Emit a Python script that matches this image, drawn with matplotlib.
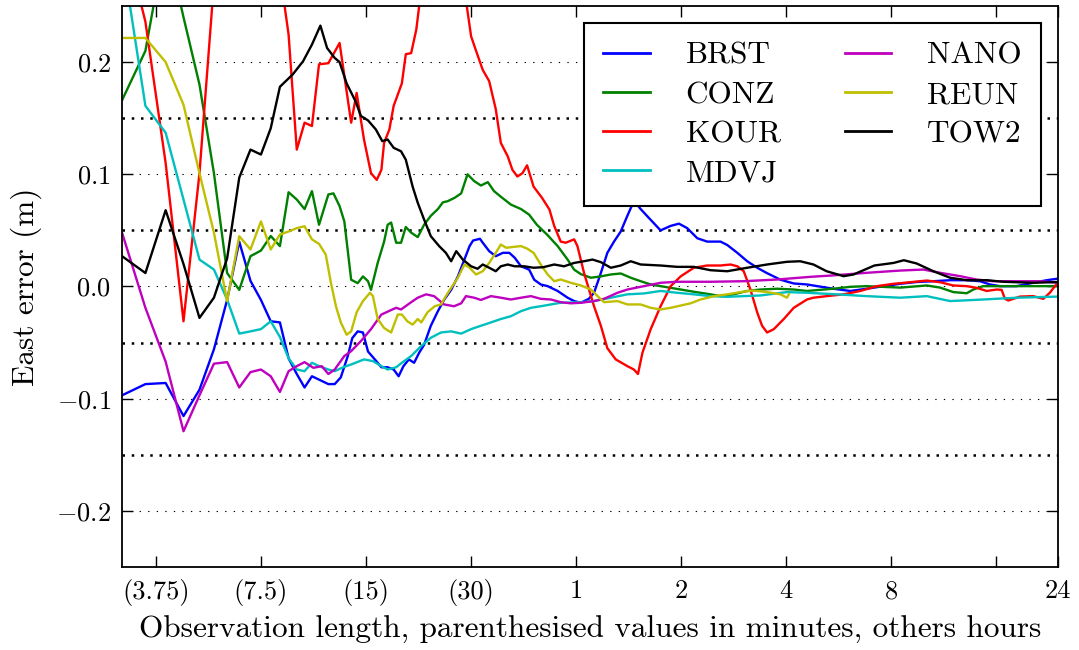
import numpy as np
import matplotlib
matplotlib.use('Agg')
import matplotlib.pyplot as plt
from matplotlib.ticker import FixedLocator, FixedFormatter, NullLocator


plt.rcParams['font.family'] = 'cmr10'
plt.rcParams['mathtext.fontset'] = 'cm'
plt.rcParams['axes.formatter.use_mathtext'] = True


# East error (m) against observation length (minutes) for each station.
brst = [(3, -0.097), (3.5, -0.087), (4, -0.086), (4.5, -0.1155), (5, -0.092),
        (5.5, -0.056), (6, -0.012), (6.5, 0.040), (7, 0.005), (7.5, -0.012),
        (8, -0.031), (8.5, -0.032), (9, -0.064), (9.5, -0.078), (10, -0.090),
        (10.5, -0.080), (11.0, -0.083), (11.7, -0.087), (12.2, -0.087),
        (12.7, -0.081), (13.3, -0.062), (13.7, -0.046), (14.2, -0.040),
        (14.7, -0.041), (15.2, -0.058), (15.9, -0.065), (16.6, -0.072),
        (17.3, -0.072), (18.0, -0.074), (18.6, -0.080), (19.2, -0.071),
        (19.9, -0.065), (20.6, -0.068), (21.3, -0.059), (22.0, -0.052),
        (23.0, -0.035), (24.1, -0.022), (25.1, -0.012), (26.3, -0.003),
        (27.5, 0.009), (28.7, 0.024), (29.7, 0.036), (30.4, 0.041),
        (31.8, 0.0425), (32.4, 0.039), (33.8, 0.0315), (35.3, 0.027),
        (37.0, 0.030), (38.6, 0.030), (40.0, 0.0256), (41.7, 0.018),
        (44.0, 0.015), (45.5, 0.006), (47.5, 0.0018), (49.7, 0.0003),
        (53.1, -0.004), (56.7, -0.010), (59.2, -0.013), (61.9, -0.0145),
        (65.2, -0.011), (67.5, -0.0056), (70.6, 0.012), (73.7, 0.030),
        (77.0, 0.040), (80.5, 0.049), (84.1, 0.063), (86.9, 0.073),
        (88.8, 0.0746), (91.8, 0.069), (97.0, 0.061), (104.7, 0.050),
        (111.9, 0.054), (118.2, 0.056), (124.8, 0.052), (133.4, 0.043),
        (142.4, 0.040), (155.5, 0.040), (162.5, 0.037), (173.7, 0.030),
        (185.4, 0.0225), (198, 0.0167), (211, 0.012), (231, 0.006),
        (252, 0.0027), (275, 0.0018), (327, -0.002), (366, -0.004),
        (408, -0.002), (456, 0.0003), (509, 0.0024), (567, 0.004),
        (633, 0.0047), (707, 0.0056), (789, 0.0056), (861, 0.0047),
        (920, 0.0018), (982, 0.0003), (1096, 0.0003), (1223, 0.0033),
        (1337, 0.0056), (1440, 0.007)]

conz = [(3, 0.166), (3.5, 0.21), (4, 0.31), (4.5, 0.24), (5, 0.18),
        (5.5, 0.101), (6, 0.012), (6.5, -0.003), (7, 0.027), (7.5, 0.032),
        (8, 0.045), (8.5, 0.036), (9, 0.084), (9.5, 0.0775), (10, 0.069),
        (10.5, 0.085), (11.0, 0.055), (11.7, 0.082), (12.1, 0.083),
        (12.6, 0.0716), (13.0, 0.058), (13.6, 0.006), (14.2, 0.003),
        (14.7, 0.009), (15.2, 0.0047), (15.5, -0.003), (16.2, 0.021),
        (16.9, 0.040), (17.3, 0.055), (17.7, 0.057), (18.3, 0.039),
        (18.9, 0.039), (19.5, 0.053), (20.2, 0.048), (21.1, 0.044),
        (22.0, 0.055), (23.0, 0.063), (24.1, 0.069), (24.9, 0.075),
        (25.7, 0.076), (26.9, 0.079), (28.1, 0.083), (29.3, 0.100),
        (30.6, 0.094), (32.0, 0.090), (33.5, 0.093), (34.9, 0.085),
        (36.5, 0.080), (39.0, 0.073), (41.7, 0.069), (44.0, 0.064),
        (46.3, 0.055), (49.6, 0.046), (53.1, 0.036), (56.7, 0.024),
        (59.2, 0.015), (61.9, 0.011), (66.1, 0.0078), (70.6, 0.009),
        (75.4, 0.0107), (80.5, 0.0116), (86.0, 0.0078), (91.8, 0.0047),
        (98.1, 0.0018), (104.7, 0.0003), (111.9, -0.0012), (119.5, -0.0027),
        (130.4, -0.0047), (145.6, -0.007), (155.5, -0.0086), (169.5, -0.007),
        (185.4, -0.004), (202.3, -0.0027), (225.8, -0.002), (252, -0.0027),
        (275, -0.004), (327, -0.002), (366, -0.0003), (408, 0.0003),
        (509, -0.001), (606, 0.0009), (662, -0.001), (722, -0.005),
        (789, -0.006), (824, -0.0027), (879, 0.0003), (1096, 0.0003),
        (1440, 0.0003)]

kour = [(3, 0.32), (3.5, 0.236), (4, 0.11), (4.5, -0.031), (5, 0.101),
        (5.5, 0.27), (6, 0.33), (6.5, 0.36), (7, 0.37), (7.5, 0.35),
        (8, 0.32), (8.5, 0.28), (9, 0.2245), (9.5, 0.122), (10, 0.146),
        (10.5, 0.143), (11.0, 0.198), (11.7, 0.199), (12.6, 0.217),
        (13.6, 0.146), (14.1, 0.1725), (14.8, 0.131), (15.5, 0.101),
        (16.1, 0.095), (16.6, 0.104), (16.9, 0.128), (17.5, 0.140),
        (18.0, 0.161), (19.0, 0.181), (19.5, 0.207), (20.2, 0.208),
        (20.9, 0.229), (21.3, 0.25), (22.3, 0.28), (24.6, 0.30),
        (27.2, 0.28), (29.0, 0.255), (30.0, 0.223), (31.0, 0.21),
        (32.4, 0.193), (33.8, 0.183), (35.3, 0.158), (36.5, 0.128),
        (38.2, 0.116), (39.4, 0.104), (40.7, 0.098), (42.1, 0.101),
        (43.4, 0.108), (45.3, 0.089), (47.9, 0.079), (50.3, 0.0686),
        (51.9, 0.054), (54.2, 0.040), (56.0, 0.039), (59.2, 0.042),
        (60.5, 0.036), (63.2, 0.012), (67.5, -0.0176), (70.6, -0.035),
        (73.7, -0.055), (77.9, -0.065), (84.1, -0.071), (87.8, -0.074),
        (90.2, -0.078), (92.9, -0.059), (98.1, -0.038), (104.7, -0.0176),
        (111.9, 0.0003), (119.5, 0.009), (130.4, 0.0167), (142.4, 0.0187),
        (155.5, 0.0187), (166.1, 0.0196), (173.7, 0.018), (181.2, 0.0136),
        (189.4, -0.0027), (198, -0.023), (204.5, -0.035), (211.4, -0.041),
        (221, -0.038), (236, -0.029), (252, -0.019), (275, -0.0116),
        (287, -0.010), (313, -0.0086), (350, -0.007), (391, -0.004),
        (436, 0.0003), (487, 0.0024), (543, 0.0038), (606, 0.0053),
        (662, 0.0038), (722, 0.0009), (789, 0.0003), (842, -0.0012),
        (900, -0.004), (961, -0.0027), (993, -0.003), (1015, -0.011),
        (1038, -0.0125), (1121, -0.009), (1223, -0.0086), (1307, -0.011),
        (1365, -0.0056), (1411, 0.0003), (1440, 0.0033)]

mdvj = [(3, 0.296), (3.5, 0.161), (4, 0.137), (4.5, 0.0775), (5, 0.024),
        (5.5, 0.0151), (6, -0.0116), (6.5, -0.042), (7, -0.040),
        (7.5, -0.038), (8, -0.031), (8.5, -0.045), (9, -0.064),
        (9.5, -0.074), (10, -0.0755), (10.5, -0.068), (11.0, -0.071),
        (11.7, -0.074), (12.2, -0.0755), (12.9, -0.072), (13.6, -0.0695),
        (14.8, -0.065), (15.7, -0.0665), (16.6, -0.071), (17.3, -0.074),
        (18.3, -0.072), (19.0, -0.068), (20.2, -0.062), (21.6, -0.053),
        (23.0, -0.0457), (24.6, -0.041), (26.3, -0.040), (28.1, -0.042),
        (30.0, -0.038), (32.0, -0.035), (34.2, -0.032), (36.5, -0.029),
        (39.0, -0.0265), (41.7, -0.022), (44.5, -0.019), (47.5, -0.0176),
        (50.8, -0.016), (54.2, -0.0145), (61.9, -0.014), (67.5, -0.013),
        (75.4, -0.010), (84.1, -0.007), (93.8, -0.0062), (104.7, -0.004),
        (116.8, -0.0056), (130.4, -0.007), (145.6, -0.0086), (162.5, -0.0092),
        (181.2, -0.0086), (202.3, -0.008), (241, -0.005), (275, -0.0056),
        (335, -0.007), (408, -0.0086), (509, -0.010), (606, -0.0086),
        (707, -0.013), (879, -0.0116), (1096, -0.010), (1440, -0.009)]

nano = [(3, 0.048), (3.5, -0.019), (4, -0.067), (4.5, -0.129), (5, -0.097),
        (5.5, -0.0688), (6, -0.0674), (6.5, -0.090), (7, -0.0763),
        (7.5, -0.074), (8, -0.080), (8.5, -0.094), (9, -0.0755),
        (9.5, -0.071), (10, -0.0674), (10.6, -0.0725), (11.2, -0.071),
        (11.7, -0.078), (12.2, -0.074), (13.0, -0.062), (13.6, -0.0576),
        (14.5, -0.0487), (15.5, -0.038), (16.6, -0.025), (17.7, -0.021),
        (18.3, -0.019), (18.9, -0.0205), (20.2, -0.014), (21.1, -0.010),
        (22.3, -0.007), (23.5, -0.0086), (25.1, -0.016), (26.8, -0.0176),
        (28.1, -0.015), (29.0, -0.0086), (30.6, -0.010), (32.0, -0.012),
        (34.2, -0.0086), (36.5, -0.010), (39.0, -0.0116), (41.7, -0.010),
        (44.5, -0.0086), (47.5, -0.011), (50.8, -0.0116), (54.2, -0.014),
        (57.9, -0.015), (61.9, -0.0145), (67.5, -0.013), (72.1, -0.011),
        (78.8, -0.0056), (84.1, -0.0027), (93.8, 0.0003), (104.7, 0.0033),
        (116.8, 0.0042), (145.6, 0.0042), (181.2, 0.0047), (225.8, 0.0062),
        (281, 0.0086), (324, 0.0098), (408, 0.0122), (509, 0.0142),
        (593, 0.0151), (662, 0.0122), (755, 0.0092), (842, 0.0062),
        (940, 0.0047), (1278, 0.0047), (1440, 0.0033)]

reun = [(3, 0.2215), (3.5, 0.2215), (4, 0.200), (4.5, 0.162), (5, 0.101),
        (5.5, 0.048), (6, -0.013), (6.5, 0.0448), (7, 0.033), (7.5, 0.058),
        (8, 0.033), (8.5, 0.0463), (9, 0.049), (9.5, 0.052), (10, 0.0537),
        (10.5, 0.042), (11.0, 0.038), (11.5, 0.0285), (11.9, 0.0033),
        (12.3, -0.0176), (12.7, -0.032), (13.2, -0.043), (13.6, -0.040),
        (14.1, -0.023), (14.7, -0.013), (15.4, -0.0056), (15.7, -0.0086),
        (16.2, -0.029), (16.9, -0.037), (17.7, -0.041), (18.5, -0.025),
        (19.0, -0.025), (19.7, -0.031), (20.4, -0.034), (21.1, -0.029),
        (21.6, -0.032), (22.5, -0.023), (23.6, -0.0176), (24.6, -0.016),
        (25.4, -0.0086), (26.3, -0.0012), (27.5, 0.0078), (28.7, 0.0196),
        (29.7, 0.0167), (31.0, 0.0107), (32.4, 0.0136), (33.8, 0.021),
        (35.3, 0.030), (36.5, 0.0374), (37.8, 0.0345), (40.0, 0.0354),
        (41.7, 0.036), (43.5, 0.0336), (45.3, 0.030), (47.5, 0.0196),
        (49.7, 0.0107), (51.9, 0.0047), (54.2, 0.0062), (57.9, 0.0033),
        (61.9, 0.0009), (66.1, -0.0027), (69.1, -0.0086), (72.1, -0.014),
        (78.8, -0.013), (84.1, -0.016), (91.8, -0.016), (98.1, -0.019),
        (104.7, -0.0205), (111.9, -0.019), (119.5, -0.017), (127.6, -0.015),
        (136.3, -0.0116), (149, -0.0086), (162.5, -0.007), (177.4, -0.005),
        (192, -0.0036), (211.4, -0.005), (230.8, -0.007), (241, -0.010),
        (244, -0.007)]

tow2 = [(3, 0.027), (3.5, 0.012), (4, 0.068), (4.5, 0.020), (5, -0.028),
        (5.5, -0.010), (6, 0.025), (6.5, 0.097), (7, 0.122), (7.5, 0.1176),
        (8, 0.141), (8.5, 0.178), (9.25, 0.189), (9.9, 0.2007),
        (10.5, 0.2156), (11.1, 0.2325), (11.6, 0.2126), (12.2, 0.2037),
        (12.6, 0.200), (13.2, 0.181), (14.0, 0.165), (14.5, 0.152),
        (15.2, 0.148), (16.0, 0.140), (16.7, 0.1295), (17.3, 0.131),
        (18.0, 0.1236), (18.9, 0.1205), (19.5, 0.113), (20.4, 0.089),
        (21.1, 0.0746), (22.0, 0.0597), (23.0, 0.0448), (24.3, 0.036),
        (25.4, 0.030), (26.3, 0.0225), (27.2, 0.0315), (28.4, 0.024),
        (30.0, 0.018), (31.3, 0.0158), (32.4, 0.0196), (33.8, 0.0167),
        (35.3, 0.0136), (36.5, 0.018), (38.2, 0.0196), (40.0, 0.018),
        (42.6, 0.018), (45.3, 0.0167), (48.3, 0.0172), (51.9, 0.0196),
        (55.4, 0.018), (59.2, 0.021), (63.2, 0.0225), (66.8, 0.024),
        (70.6, 0.0217), (75.4, 0.0167), (80.5, 0.0187), (86.0, 0.0225),
        (91.8, 0.0196), (104.7, 0.0187), (116.8, 0.0175), (130.4, 0.0175),
        (145.6, 0.0145), (162.5, 0.0136), (185.4, 0.0167), (211.4, 0.0196),
        (241, 0.022), (263, 0.0225), (287, 0.0196), (313, 0.0136),
        (350, 0.0092), (374, 0.0107), (429, 0.0187), (487, 0.021),
        (521, 0.0234), (567, 0.0205), (633, 0.0136), (707, 0.0078),
        (789, 0.0056), (900, 0.0056), (1004, 0.0042), (1223, 0.0033),
        (1440, 0.004)]

stations = ['BRST', 'CONZ', 'KOUR', 'MDVJ', 'NANO', 'REUN', 'TOW2']
series = [brst, conz, kour, mdvj, nano, reun, tow2]
colours = ['b', 'g', 'r', 'c', 'm', 'y', 'k']

# Ticks: minutes in brackets, hours otherwise.
tick_minutes = [3.75, 7.5, 15, 30, 60, 120, 240, 480, 960, 1440]
tick_labels = ['(3.75)', '(7.5)', '(15)', '(30)', '1', '2', '4', '8', '', '24']


fig = plt.figure(figsize=(10.79, 6.5), dpi=100)
ax = fig.add_axes([0.1131, 0.1277, 0.8674, 0.8631])

for name, data, c in zip(stations, series, colours):
    t, e = np.array(data).T
    ax.plot(t, e, color=c, lw=1.7, label=name)

ax.set_xscale('log')
ax.set_xlim(3, 1440)
ax.set_ylim(-0.25, 0.25)
ax.xaxis.set_major_locator(FixedLocator(tick_minutes))
ax.xaxis.set_major_formatter(FixedFormatter(tick_labels))
ax.xaxis.set_minor_locator(NullLocator())
ax.yaxis.set_major_locator(FixedLocator([-0.2, -0.1, 0.0, 0.1, 0.2]))
ax.yaxis.set_minor_locator(FixedLocator([-0.15, -0.05, 0.05, 0.15]))

ax.tick_params(which='major', direction='in', length=8, width=1,
               top=True, right=True, labelsize=19)
ax.tick_params(axis='x', which='major', pad=9)
ax.tick_params(axis='y', which='major', pad=8)
ax.tick_params(which='minor', length=0)
ax.grid(axis='y', which='major', color='k', lw=0.8,
        linestyle=(0, (1.2, 6.5)))
ax.grid(axis='y', which='minor', color='k', lw=1.8,
        linestyle=(0, (1, 2.7)))
ax.set_axisbelow(True)
for s in ax.spines.values():
    s.set_linewidth(1.3)

ax.set_xlabel('Observation length, parenthesised values in minutes, others hours',
              fontsize=22.5, labelpad=7)
ax.set_ylabel('East error (m)', fontsize=22.5, labelpad=10)

leg = ax.legend(loc='upper right', ncol=2, fontsize=22.5, handlelength=1.5,
                handletextpad=1.15, columnspacing=2.05, borderpad=0.6,
                labelspacing=0.36, borderaxespad=0.55, fancybox=False,
                framealpha=1, edgecolor='k')
leg.get_frame().set_linewidth(1.5)
for h in leg.get_lines():
    h.set_linewidth(2)

fig.savefig('out.png', dpi=100)
